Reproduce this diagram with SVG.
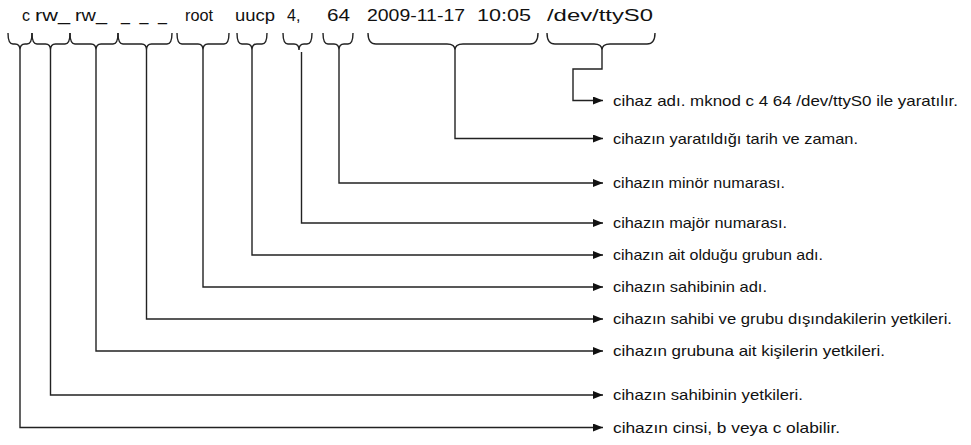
<svg xmlns="http://www.w3.org/2000/svg" width="971" height="445" viewBox="0 0 971 445">
<defs>
<marker id="arr" markerWidth="10" markerHeight="8" refX="10" refY="4" orient="auto" markerUnits="userSpaceOnUse">
<polygon points="0,0 10,4 0,8" fill="#111"/>
</marker>
<style>
.top{font-family:"Liberation Sans",sans-serif;font-size:16px;fill:#111}
.lbl{font-family:"Liberation Sans",sans-serif;font-size:15px;fill:#111}
.br{fill:none;stroke:#222;stroke-width:1.4}
.cn{fill:none;stroke:#222;stroke-width:1.4;marker-end:url(#arr)}
</style>
</defs>
<rect width="971" height="445" fill="#fff"/>
<g id="fields">
<g id="f-type"><text class="top" x="22" y="21">c</text><path class="br" d="M8 33 Q8 44 13 44 H15 Q20 44 20 50 Q20 44 25 44 H27 Q32 44 32 33"/></g>
<g id="f-owner"><text class="top" x="35" y="21" textLength="35" lengthAdjust="spacingAndGlyphs">rw_</text><path class="br" d="M32 33 Q32 44 37 44 H45.5 Q50.5 44 50.5 50 Q50.5 44 55.5 44 H65 Q70 44 70 33"/></g>
<g id="f-group"><text class="top" x="75" y="21" textLength="32" lengthAdjust="spacingAndGlyphs">rw_</text><path class="br" d="M70 33 Q70 44 75 44 H91 Q96 44 96 50 Q96 44 101 44 H113 Q118 44 118 33"/></g>
<g id="f-other"><text class="top" x="121" y="21" textLength="46" lengthAdjust="spacing">_ _ _</text><path class="br" d="M118 33 Q118 44 123 44 H141.5 Q146.5 44 146.5 50 Q146.5 44 151.5 44 H167 Q172 44 172 33"/></g>
<g id="f-root"><text class="top" x="185" y="21" textLength="28" lengthAdjust="spacingAndGlyphs">root</text><path class="br" d="M177 33 Q177 44 182 44 H198 Q203 44 203 50 Q203 44 208 44 H224 Q229 44 229 33"/></g>
<g id="f-uucp"><text class="top" x="235" y="21" textLength="40" lengthAdjust="spacingAndGlyphs">uucp</text><path class="br" d="M237 33 Q237 44 242 44 H247 Q252 44 252 50 Q252 44 257 44 H262 Q267 44 267 33"/></g>
<g id="f-major"><text class="top" x="287" y="21">4,</text><path class="br" d="M283 33 Q283 44 288 44 H294 Q299 44 299 50 Q299 44 304 44 H307 Q312 44 312 33"/></g>
<g id="f-minor"><text class="top" x="327" y="21" textLength="23" lengthAdjust="spacingAndGlyphs">64</text><path class="br" d="M323 33 Q323 44 328 44 H334 Q339 44 339 50 Q339 44 344 44 H348 Q353 44 353 33"/></g>
<g id="f-date"><text class="top" x="367" y="21" textLength="98" lengthAdjust="spacingAndGlyphs">2009-11-17</text><text class="top" x="477" y="21" textLength="54" lengthAdjust="spacingAndGlyphs">10:05</text><path class="br" d="M368 33 Q368 44 376 44 H447 Q455 44 455 50 Q455 44 463 44 H530 Q538 44 538 33"/></g>
<g id="f-name"><text class="top" x="547" y="21" textLength="106" lengthAdjust="spacingAndGlyphs">/dev/ttyS0</text><path class="br" d="M547 33 Q547 44 555 44 H594 Q602 44 602 50 Q602 44 610 44 H647 Q655 44 655 33"/></g>
</g>
<g id="connectors">
<path class="cn" d="M602 50 V69 H573 V100.5 H603"/>
<path class="cn" d="M455 50 V138.5 H603"/>
<path class="cn" d="M339 50 V183 H603"/>
<path class="cn" d="M301.5 52 V223 H603"/>
<path class="cn" d="M252 50 V255 H603"/>
<path class="cn" d="M203 50 V287 H603"/>
<path class="cn" d="M146.5 50 V319 H603"/>
<path class="cn" d="M96 50 V351 H603"/>
<path class="cn" d="M50.5 50 V395 H603"/>
<path class="cn" d="M20 50 V427.5 H603"/>
</g>
<g id="labels">
<text class="lbl" x="613" y="105.5" textLength="345" lengthAdjust="spacingAndGlyphs">cihaz adı. mknod c 4 64 /dev/ttyS0 ile yaratılır.</text>
<text class="lbl" x="613" y="143.5" textLength="245" lengthAdjust="spacingAndGlyphs">cihazın yaratıldığı tarih ve zaman.</text>
<text class="lbl" x="613" y="188" textLength="172" lengthAdjust="spacingAndGlyphs">cihazın minör numarası.</text>
<text class="lbl" x="613" y="228" textLength="174" lengthAdjust="spacingAndGlyphs">cihazın majör numarası.</text>
<text class="lbl" x="613" y="260" textLength="210" lengthAdjust="spacingAndGlyphs">cihazın ait olduğu grubun adı.</text>
<text class="lbl" x="613" y="292" textLength="154" lengthAdjust="spacingAndGlyphs">cihazın sahibinin adı.</text>
<text class="lbl" x="613" y="324" textLength="339" lengthAdjust="spacingAndGlyphs">cihazın sahibi ve grubu dışındakilerin yetkileri.</text>
<text class="lbl" x="613" y="356" textLength="272" lengthAdjust="spacingAndGlyphs">cihazın grubuna ait kişilerin yetkileri.</text>
<text class="lbl" x="613" y="400" textLength="190" lengthAdjust="spacingAndGlyphs">cihazın sahibinin yetkileri.</text>
<text class="lbl" x="613" y="432.5" textLength="227" lengthAdjust="spacingAndGlyphs">cihazın cinsi, b veya c olabilir.</text>
</g>
</svg>
